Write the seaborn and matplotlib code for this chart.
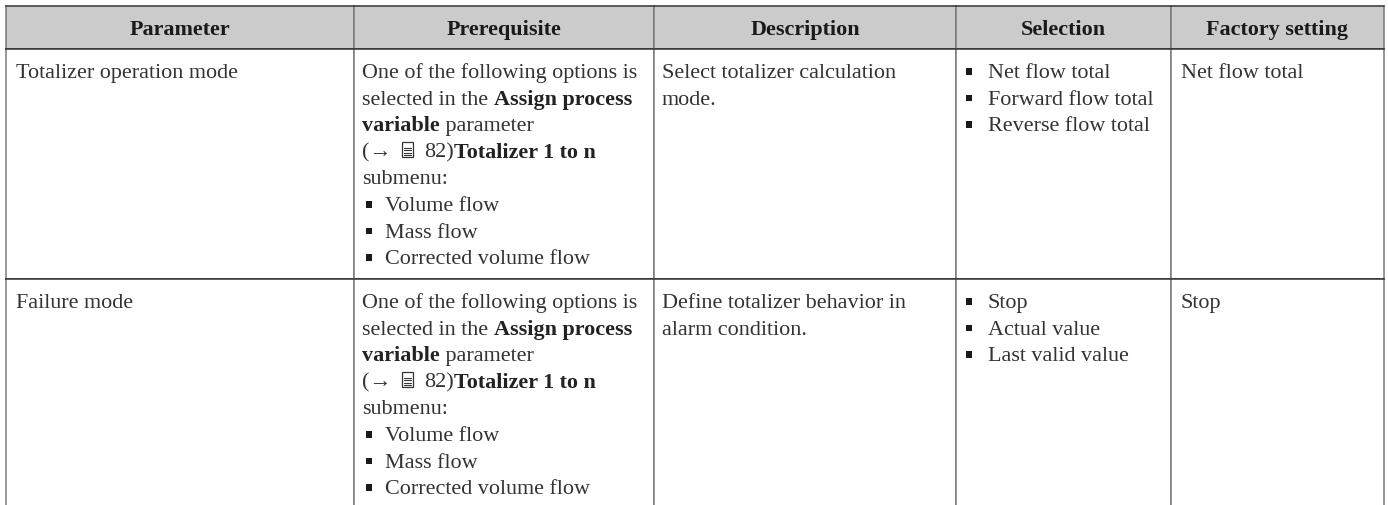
import numpy as np
import seaborn as sns
import matplotlib.pyplot as plt
from matplotlib.colors import ListedColormap
from matplotlib.patches import Rectangle

W, H = 1388, 506

headers = ["Parameter", "Prerequisite", "Description", "Selection", "Factory setting"]
parameters = ["Totalizer operation mode", "Failure mode"]
descriptions = [
    ["Select totalizer calculation", "mode."],
    ["Define totalizer behavior in", "alarm condition."],
]
selections = [
    ["Net flow total", "Forward flow total", "Reverse flow total"],
    ["Stop", "Actual value", "Last valid value"],
]
factory = ["Net flow total", "Stop"]
prereq_options = ["Volume flow", "Mass flow", "Corrected volume flow"]
shade = [[1, 1, 1, 1, 1], [0, 0, 0, 0, 0], [0, 0, 0, 0, 0]]

# layout in pixels
col_edges = [6, 354, 654, 956, 1171, 1384]
row_edges = [7, 50, 280, 506]
FS = 15.9
PITCH = 26.6
GREY = "#7a7a7a"
DARK = "#333333"

sns.set_theme(style="white")
plt.rcParams["font.family"] = ["Liberation Serif", "DejaVu Sans"]

fig = plt.figure(figsize=(W / 100, H / 100), dpi=100)
gs = fig.add_gridspec(
    3, 5,
    width_ratios=np.diff(col_edges), height_ratios=np.diff(row_edges),
    left=col_edges[0] / W, right=col_edges[-1] / W,
    top=1 - row_edges[0] / H, bottom=1 - row_edges[-1] / H,
    wspace=0, hspace=0,
)
cmap = ListedColormap(["white", "#cbcbcb"])
for r in range(3):
    for c in range(5):
        ax = fig.add_subplot(gs[r, c])
        sns.heatmap([[shade[r][c]]], vmin=0, vmax=1, cmap=cmap, cbar=False,
                    xticklabels=False, yticklabels=False, ax=ax)
        for side in ax.spines:
            ax.spines[side].set_visible(True)
            ax.spines[side].set_linewidth(1.1)
            ax.spines[side].set_color(GREY if side in ("left", "right") else DARK)
        if r == 2:
            ax.spines["bottom"].set_visible(False)

# overlay in pixel coordinates for the text
ov = fig.add_axes([0, 0, 1, 1], facecolor="none")
ov.set_xlim(0, W)
ov.set_ylim(H, 0)
ov.axis("off")
renderer = fig.canvas.get_renderer()


def put(x, y, s, weight="normal", color="#333333", ha="left"):
    t = ov.text(x, y, s, fontsize=FS, fontweight=weight, color=color, ha=ha, va="baseline")
    return t.get_window_extent(renderer).width


def runs(x, y, parts):
    for s, weight in parts:
        x += put(x, y, s, weight, color="#222222" if weight == "bold" else "#333333")
    return x


def bullet(x, y, s, text_x):
    ov.add_patch(Rectangle((x, y - 9), 6, 6.5, color="#1a1a1a", lw=0))
    put(text_x, y, s)


def doc_icon(x, y):
    ov.add_patch(Rectangle((x, y - 15), 11, 15, fc="white", ec="#333333", lw=0.9))
    for k in range(4):
        ov.plot([x + 2, x + 9], [y - 9 + k * 2.4] * 2, color="#333333", lw=0.8)


for h, a, b in zip(headers, col_edges[:-1], col_edges[1:]):
    put((a + b) / 2, 35, h, weight="bold", ha="center", color="#1a1a1a")

first_base = [78, 308]
for i, y0 in enumerate(first_base):
    put(16, y0, parameters[i])
    put(362, y0, "One of the following options is")
    runs(362, y0 + PITCH, [("selected in the ", "normal"), ("Assign process", "bold")])
    runs(362, y0 + 2 * PITCH, [("variable", "bold"), (" parameter", "normal")])
    put(362, y0 + 3 * PITCH, "(→")
    doc_icon(402, y0 + 3 * PITCH)
    runs(424, y0 + 3 * PITCH, [("82)", "normal"), ("Totalizer 1 to n", "bold")])
    put(362, y0 + 4 * PITCH, "submenu:")
    for k, opt in enumerate(prereq_options):
        bullet(366, y0 + (5 + k) * PITCH, opt, 385)
    for k, line in enumerate(descriptions[i]):
        put(662, y0 + k * PITCH, line)
    for k, line in enumerate(selections[i]):
        bullet(966, y0 + k * PITCH, line, 988)
    put(1181, y0, factory[i])

fig.savefig("out.png", dpi=100)
